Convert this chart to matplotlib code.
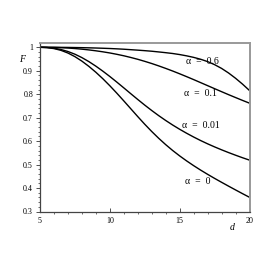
import matplotlib
matplotlib.use("Agg")
import matplotlib.pyplot as plt
from matplotlib.ticker import MultipleLocator

plt.rcParams['font.family'] = ['Liberation Serif', 'DejaVu Serif']

d = [5, 5.5, 6, 6.5, 7, 7.5, 8, 8.5, 9, 9.5, 10, 10.5, 11, 11.5, 12, 12.5,
     13, 13.5, 14, 14.5, 15, 15.5, 16, 16.5, 17, 17.5, 18, 18.5, 19, 19.5, 20]
F_a06 = [1.0, 1.0, 1.0, 0.9997, 0.9994, 0.9989, 0.9984, 0.9977, 0.9969, 0.9959,
         0.9948, 0.9934, 0.9918, 0.9898, 0.9878, 0.9856, 0.9832, 0.9802, 0.977,
         0.9735, 0.969, 0.9635, 0.957, 0.949, 0.939, 0.926, 0.91, 0.8905,
         0.868, 0.843, 0.8157]
F_a01 = [1.0, 0.9998, 0.9993, 0.9983, 0.9968, 0.9947, 0.992, 0.9888, 0.985, 0.9807,
         0.9758, 0.9701, 0.9638, 0.9566, 0.9488, 0.9401, 0.9308, 0.9207, 0.91,
         0.8988, 0.887, 0.8748, 0.8623, 0.8494, 0.8365, 0.8236, 0.8108, 0.7981,
         0.7858, 0.7736, 0.7618]
F_a001 = [1.0, 0.999, 0.996, 0.9905, 0.982, 0.9705, 0.956, 0.9389, 0.9195, 0.8982,
          0.8755, 0.8516, 0.827, 0.8021, 0.7775, 0.7535, 0.7305, 0.7086, 0.688,
          0.6686, 0.6505, 0.6335, 0.6175, 0.6025, 0.5885, 0.5754, 0.563, 0.5512,
          0.54, 0.5292, 0.519]
F_a0 = [1.0, 0.9986, 0.9945, 0.987, 0.9755, 0.9601, 0.941, 0.9186, 0.8935, 0.8659,
        0.836, 0.8044, 0.7715, 0.738, 0.7045, 0.6719, 0.641, 0.612, 0.585, 0.56,
        0.537, 0.5156, 0.4955, 0.4765, 0.4585, 0.4412, 0.4245, 0.4081, 0.392,
        0.3761, 0.3605]

series = [F_a06, F_a01, F_a001, F_a0]
labels = ["α  =  0.6", "α  =  0.1", "α  =  0.01", "α  =  0"]
label_pos = [(16.6, 0.938), (16.5, 0.805), (16.5, 0.668), (16.3, 0.428)]

xticks = [5, 10, 15, 20]
yticks = [0.3, 0.4, 0.5, 0.6, 0.7, 0.8, 0.9, 1]
ytick_labels = ["0.3", "0.4", "0.5", "0.6", "0.7", "0.8", "0.9", "1"]

fig = plt.figure(figsize=(2.73, 2.73), dpi=100)
ax = fig.add_axes([40/273, 1-211.5/273, (249.5-40)/273, (211.5-43.3)/273])

for s in series:
    ax.plot(d, s, color='black', lw=1.0)

for lab, (x, y) in zip(labels, label_pos):
    ax.text(x, y, lab, fontsize=7, ha='center', va='center', color='black')

ax.set_xlim(5, 20)
ax.set_ylim(0.3, 1.017)
ax.set_xticks(xticks)
ax.set_xticklabels([str(t) for t in xticks])
ax.set_yticks(yticks)
ax.set_yticklabels(ytick_labels)
ax.xaxis.set_minor_locator(MultipleLocator(1))
ax.yaxis.set_minor_locator(MultipleLocator(0.02))

ax.tick_params(axis='both', which='major', labelsize=5.8, length=3, width=0.6, color='#333333', pad=2)
ax.tick_params(axis='both', which='minor', length=1.6, width=0.5, color='#333333')
ax.tick_params(axis='y', direction='out')
ax.tick_params(axis='x', direction='in', pad=4)

for side in ['left', 'bottom']:
    ax.spines[side].set_color('#444444')
    ax.spines[side].set_linewidth(0.9)
for side in ['top', 'right']:
    ax.spines[side].set_color('#999999')
    ax.spines[side].set_linewidth(1.4)

fig.text(22/273, 1-60/273, "F", fontsize=7, style='italic', ha='center', va='center')
fig.text(232/273, 1-228/273, "d", fontsize=7, style='italic', ha='center', va='center')

fig.savefig("out.png", dpi=100)
